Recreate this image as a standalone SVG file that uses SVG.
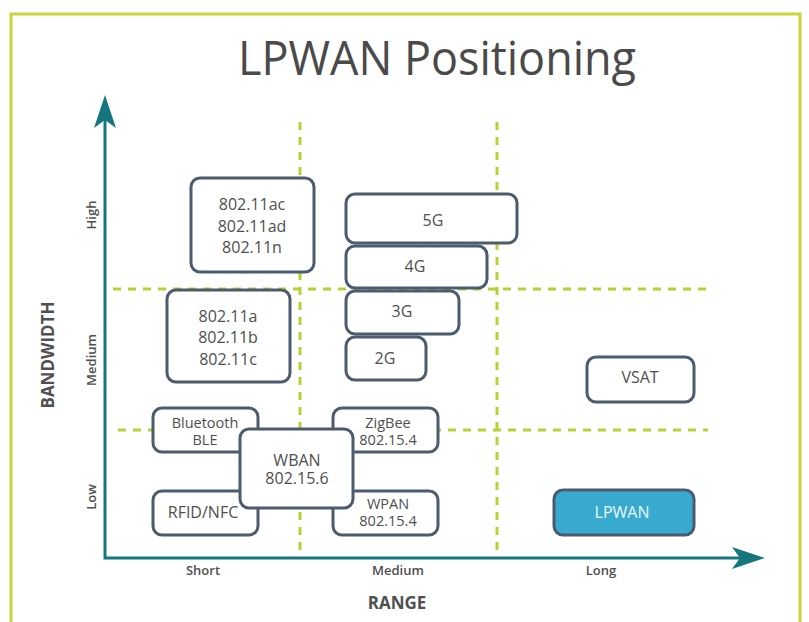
<svg xmlns="http://www.w3.org/2000/svg" width="809" height="622" viewBox="0 0 809 622">
<style>
  .box{fill:#ffffff;stroke:#4b5c6e;stroke-width:3}
  .t{font-family:"Open Sans","Noto Sans",sans-serif;font-size:16px;fill:#4f4f4f;text-anchor:middle}
  .s{font-size:14.5px}
  .ax{font-family:"Open Sans","Noto Sans",sans-serif;font-size:13px;fill:#4f4f4f;text-anchor:middle;font-weight:600}
  .axt{font-family:"Open Sans","Noto Sans",sans-serif;font-size:17px;fill:#505050;text-anchor:middle;font-weight:700}
  .dash{stroke:#b4d235;stroke-width:3;stroke-dasharray:8 7;fill:none}
</style>
<defs>
  <marker id="arr" markerUnits="userSpaceOnUse" markerWidth="40" markerHeight="30" refX="8" refY="12" orient="auto-start-reverse" viewBox="0 0 40 24">
    <path d="M0,1 L33,12 L0,23 L8,12 Z" fill="#15767e"/>
  </marker>
</defs>
<rect x="0" y="0" width="809" height="622" fill="#ffffff"/>
<rect x="11" y="14" width="789" height="640" fill="none" stroke="#c8d43c" stroke-width="3"/>
<text x="437" y="75" font-family="'Open Sans','Noto Sans',sans-serif" font-size="48" fill="#4a4a4a" text-anchor="middle" textLength="398" lengthAdjust="spacingAndGlyphs">LPWAN Positioning</text>

<g id="grid">
  <line class="dash" x1="300" y1="122" x2="300" y2="553"/>
  <line class="dash" x1="497" y1="122" x2="497" y2="553"/>
  <line class="dash" x1="113" y1="289" x2="706" y2="289"/>
  <line class="dash" x1="118" y1="430" x2="708" y2="430"/>
</g>

<g id="axes">
  <path d="M105,120 V558 H740" fill="none" stroke="#15767e" stroke-width="3" marker-start="url(#arr)" marker-end="url(#arr)"/>
</g>

<g id="axis-labels">
  <text class="axt" transform="translate(54,355) rotate(-90)">BANDWIDTH</text>
  <text class="ax" transform="translate(96,215) rotate(-90)">High</text>
  <text class="ax" transform="translate(96,360) rotate(-90)">Medium</text>
  <text class="ax" transform="translate(96,497) rotate(-90)">Low</text>
  <text class="ax" x="203" y="575">Short</text>
  <text class="ax" x="398" y="575">Medium</text>
  <text class="ax" x="601" y="575">Long</text>
  <text class="axt" x="397" y="609">RANGE</text>
</g>

<g id="n-80211ac">
  <rect class="box" x="191" y="178" width="123" height="94" rx="9"/>
  <text class="t" x="252" y="210">802.11ac</text>
  <text class="t" x="252" y="232">802.11ad</text>
  <text class="t" x="252" y="253">802.11n</text>
</g>
<g id="n-80211a">
  <rect class="box" x="167" y="290" width="123" height="92" rx="9"/>
  <text class="t" x="228" y="322">802.11a</text>
  <text class="t" x="228" y="343">802.11b</text>
  <text class="t" x="228" y="365">802.11c</text>
</g>
<g id="n-5g">
  <rect class="box" x="346" y="194" width="171" height="49" rx="9"/>
  <text class="t" x="433" y="226">5G</text>
</g>
<g id="n-4g">
  <rect class="box" x="346" y="246" width="141" height="42" rx="9"/>
  <text class="t" x="415" y="272">4G</text>
</g>
<g id="n-3g">
  <rect class="box" x="346" y="291" width="113" height="43" rx="9"/>
  <text class="t" x="402" y="317">3G</text>
</g>
<g id="n-2g">
  <rect class="box" x="346" y="337" width="80" height="43" rx="9"/>
  <text class="t" x="385" y="364">2G</text>
</g>
<g id="n-bluetooth">
  <rect class="box" x="153" y="408" width="105" height="44" rx="9"/>
  <text class="t s" x="205" y="428">Bluetooth</text>
  <text class="t s" x="205" y="445">BLE</text>
</g>
<g id="n-zigbee">
  <rect class="box" x="333" y="408" width="105" height="44" rx="9"/>
  <text class="t s" x="388" y="428">ZigBee</text>
  <text class="t s" x="388" y="445">802.15.4</text>
</g>
<g id="n-rfid">
  <rect class="box" x="153" y="491" width="105" height="44" rx="9"/>
  <text class="t" x="203" y="518">RFID/NFC</text>
</g>
<g id="n-wpan">
  <rect class="box" x="333" y="491" width="105" height="44" rx="9"/>
  <text class="t s" x="388" y="509">WPAN</text>
  <text class="t s" x="388" y="526">802.15.4</text>
</g>
<g id="n-wban">
  <rect class="box" x="240" y="429" width="113" height="79" rx="9"/>
  <text class="t" x="297" y="466">WBAN</text>
  <text class="t" x="297" y="484">802.15.6</text>
</g>
<g id="n-vsat">
  <rect class="box" x="587" y="357" width="107" height="45" rx="9"/>
  <text class="t" x="640" y="383">VSAT</text>
</g>
<g id="n-lpwan">
  <rect x="554" y="490" width="140" height="45" rx="9" fill="#38aad0" stroke="#4b5c6e" stroke-width="3"/>
  <text class="t" x="622" y="518" style="fill:#eaf6fa">LPWAN</text>
</g>
</svg>
